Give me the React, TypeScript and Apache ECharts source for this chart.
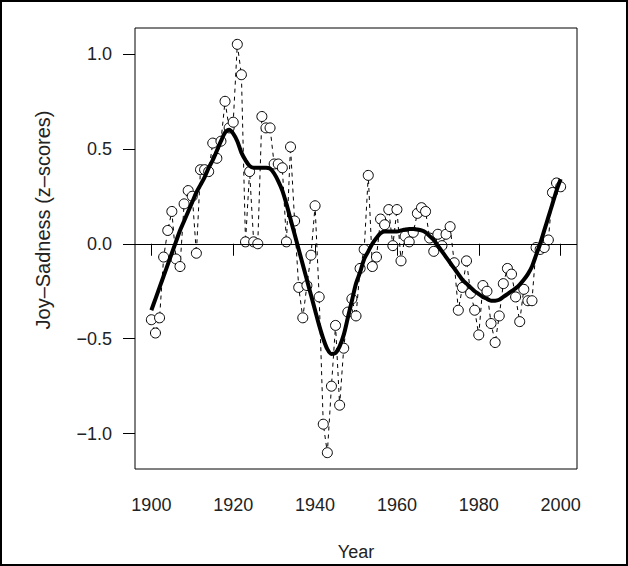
import React, { useEffect, useRef } from "react";
import * as echarts from "echarts";

const years: number[] = [];
for (let y = 1900; y <= 2000; y++) years.push(y);

const observed = [
  -0.40, -0.47, -0.39, -0.07, 0.07, 0.17, -0.08, -0.12, 0.21, 0.28,
  0.25, -0.05, 0.39, 0.39, 0.38, 0.53, 0.45, 0.54, 0.75, 0.61,
  0.64, 1.05, 0.89, 0.01, 0.38, 0.01, 0.00, 0.67, 0.61, 0.61,
  0.42, 0.42, 0.40, 0.01, 0.51, 0.12, -0.23, -0.39, -0.22, -0.06,
  0.20, -0.28, -0.95, -1.10, -0.75, -0.43, -0.85, -0.55, -0.36, -0.29,
  -0.38, -0.13, -0.03, 0.36, -0.12, -0.07, 0.13, 0.10, 0.18, -0.01,
  0.18, -0.09, 0.04, 0.01, 0.06, 0.16, 0.19, 0.17, 0.03, -0.04,
  0.05, -0.01, 0.05, 0.09, -0.10, -0.35, -0.23, -0.09, -0.26, -0.35,
  -0.48, -0.22, -0.25, -0.42, -0.52, -0.38, -0.21, -0.13, -0.16, -0.28,
  -0.41, -0.24, -0.30, -0.30, -0.02, -0.03, -0.02, 0.02, 0.27, 0.32,
  0.30,
];

const smoothed = [
  -0.35, -0.29, -0.23, -0.17, -0.11, -0.05, 0.01, 0.07, 0.12, 0.17,
  0.22, 0.27, 0.31, 0.35, 0.40, 0.44, 0.49, 0.54, 0.585, 0.60,
  0.58, 0.54, 0.48, 0.44, 0.41, 0.40, 0.40, 0.40, 0.40, 0.395,
  0.37, 0.33, 0.28, 0.21, 0.13, 0.05, -0.03, -0.11, -0.19, -0.27,
  -0.35, -0.43, -0.50, -0.555, -0.58, -0.575, -0.54, -0.48, -0.39, -0.30,
  -0.21, -0.15, -0.08, -0.04, 0.00, 0.03, 0.055, 0.065, 0.065, 0.065,
  0.065, 0.07, 0.075, 0.078, 0.078, 0.075, 0.07, 0.06, 0.04, 0.02,
  -0.01, -0.04, -0.07, -0.10, -0.13, -0.16, -0.19, -0.21, -0.23, -0.25,
  -0.265, -0.28, -0.29, -0.30, -0.30, -0.295, -0.28, -0.265, -0.25, -0.235,
  -0.215, -0.19, -0.16, -0.12, -0.06, 0.00, 0.07, 0.14, 0.21, 0.28,
  0.34,
];

const xTicks = [1900, 1920, 1940, 1960, 1980, 2000];
const yTicks = [-1.0, -0.5, 0.0, 0.5, 1.0];

const FONT = "Liberation Sans";
const TEXT_COLOR = "#222";

export default function App() {
  const ref = useRef<HTMLDivElement>(null);
  useEffect(() => {
    if (!ref.current) return;
    const chart = echarts.init(ref.current, null, { renderer: "svg" });
    const fmtY = (v: number) => {
      const s = Math.abs(v).toFixed(1);
      return v < -1e-9 ? "\u2212" + s : s;
    };
    chart.setOption({
      animation: false,
      backgroundColor: "#fff",
      grid: {
        left: 135,
        right: 51,
        top: 28,
        bottom: 96,
        show: true,
        borderColor: "#000",
        borderWidth: 1,
        backgroundColor: "transparent",
      },
      xAxis: {
        type: "value",
        min: 1896,
        max: 2004,
        name: "Year",
        nameLocation: "middle",
        nameGap: 74,
        nameTextStyle: { fontFamily: FONT, fontSize: 18, color: TEXT_COLOR },
        axisLine: { show: false },
        splitLine: { show: false },
        axisTick: {
          show: true,
          inside: false,
          length: 12,
          lineStyle: { color: "#000", width: 1 },
          customValues: xTicks,
        },
        axisLabel: {
          margin: 27,
          fontFamily: FONT,
          fontSize: 18,
          color: TEXT_COLOR,
          customValues: xTicks,
          formatter: (v: number) => String(v),
        },
      },
      yAxis: {
        type: "value",
        min: -1.186,
        max: 1.136,
        axisLine: { show: false },
        splitLine: { show: false },
        axisTick: {
          show: true,
          inside: false,
          length: 12,
          lineStyle: { color: "#000", width: 1 },
          customValues: yTicks,
        },
        axisLabel: {
          margin: 23,
          fontFamily: FONT,
          fontSize: 18,
          color: TEXT_COLOR,
          customValues: yTicks,
          formatter: (v: number) => fmtY(v),
        },
      },
      graphic: [
        {
          type: "rect",
          shape: { x: 1, y: 1, width: 626, height: 564 },
          style: { fill: "none", stroke: "#000", lineWidth: 2 },
          silent: true,
        },
        {
          type: "text",
          x: 43,
          y: 220,
          rotation: Math.PI / 2,
          style: {
            text: "Joy\u2013Sadness (z\u2013scores)",
            fontFamily: FONT,
            fontSize: 20,
            fill: TEXT_COLOR,
            textAlign: "center",
            textVerticalAlign: "middle",
          },
          silent: true,
        },
      ],
      series: [
        {
          name: "Observed",
          type: "line",
          data: years.map((y, i) => [y, observed[i]]),
          symbol: "circle",
          symbolSize: 10,
          showAllSymbol: true,
          lineStyle: { color: "#000", width: 1, type: [4, 4] },
          itemStyle: { color: "#fff", borderColor: "#000", borderWidth: 1 },
          z: 2,
        },
        {
          name: "Smoothed",
          type: "line",
          data: years.map((y, i) => [y, smoothed[i]]),
          smooth: 0.3,
          symbol: "none",
          lineStyle: { color: "#000", width: 4 },
          z: 4,
          markLine: {
            silent: true,
            symbol: "none",
            label: { show: false },
            lineStyle: { color: "#000", width: 1, type: "solid" },
            data: [{ yAxis: 0 }],
          },
        },
      ],
    });
    return () => chart.dispose();
  }, []);
  return (
    <div
      ref={ref}
      style={{ position: "fixed", left: 0, top: 0, width: 628, height: 566 }}
    />
  );
}
